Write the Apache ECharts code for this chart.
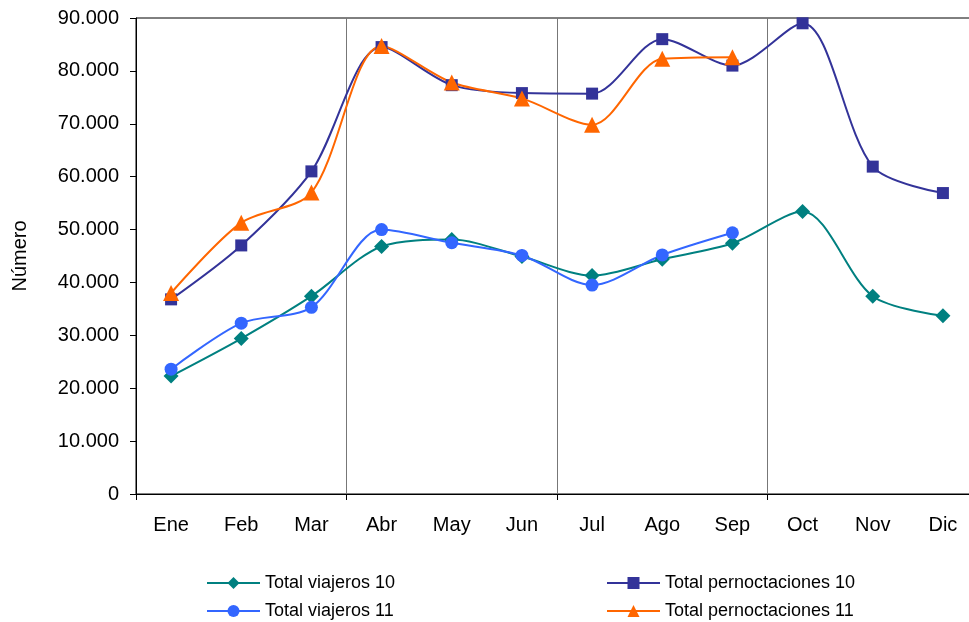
<!DOCTYPE html>
<html>
<head>
<meta charset="utf-8">
<script src="https://cdn.jsdelivr.net/npm/echarts@6/dist/echarts.min.js"></script>
<style>
html,body{margin:0;padding:0;background:#fff;}
#chart{width:969px;height:622px;}
</style>
</head>
<body>
<div id="chart"></div>
<script>
const months = ['Ene', 'Feb', 'Mar', 'Abr', 'May', 'Jun', 'Jul', 'Ago', 'Sep', 'Oct', 'Nov', 'Dic'];
const viajeros10 = [22300, 29400, 37400, 46800, 48100, 44900, 41300, 44400, 47400, 53400, 37400, 33700];
const pernoctaciones10 = [36800, 47000, 61000, 84500, 77300, 75800, 75700, 86000, 81000, 89000, 61900, 56900];
const viajeros11 = [23600, 32300, 35300, 50000, 47500, 45100, 39500, 45200, 49400, null, null, null];
const pernoctaciones11 = [38000, 51300, 57000, 84700, 77800, 74800, 69800, 82300, 82600, null, null, null];
const yMin = 0, yMax = 90000, yStep = 10000;

const FONT = "'Liberation Sans', Arial, sans-serif";
function fmt(v) {
  return String(v).replace(/\B(?=(\d{3})+(?!\d))/g, '.');
}
const chart = echarts.init(document.getElementById('chart'), null, {renderer: 'canvas'});
function mk(name, data, color, symbol, size) {
  return {
    name: name, type: 'line', data: data, smooth: 0.3,
    symbol: symbol, symbolSize: size, showSymbol: true,
    lineStyle: {color: color, width: 2},
    itemStyle: {color: color},
    connectNulls: false, animation: false
  };
}
function lg(name, left, top) {
  return {
    show: true, orient: 'horizontal', left: left, top: top, padding: 0,
    itemWidth: 53, itemHeight: 15, data: [name], selectedMode: false,
    textStyle: {fontFamily: FONT, fontSize: 18, color: '#000'}
  };
}
const every3 = function (index) { return index % 3 === 0; };
chart.setOption({
  animation: false,
  textStyle: {fontFamily: FONT},
  grid: {left: 136, top: 18, width: 842, height: 476, show: true, borderColor: '#000', borderWidth: 1,
         backgroundColor: 'transparent', outerBoundsMode: 'none', containLabel: false},
  legend: [
    lg('Total viajeros 10', 206, 574),
    lg('Total viajeros 11', 206, 602),
    lg('Total pernoctaciones 10', 606, 574),
    lg('Total pernoctaciones 11', 606, 602)
  ],
  xAxis: {
    type: 'category', data: months, boundaryGap: true,
    axisLine: {lineStyle: {color: '#000', width: 1}},
    axisTick: {show: true, interval: every3, length: 6, inside: false, lineStyle: {color: '#000'}},
    splitLine: {show: true, interval: every3, lineStyle: {color: '#777', width: 1}},
    axisLabel: {interval: 0, fontSize: 20, color: '#000', margin: 21, fontFamily: FONT}
  },
  yAxis: {
    type: 'value', min: yMin, max: yMax, interval: yStep,
    name: 'Número', nameLocation: 'middle', nameGap: 106, nameRotate: 90,
    nameTextStyle: {fontSize: 20, color: '#000', fontFamily: FONT},
    axisLine: {show: true, lineStyle: {color: '#000', width: 1}},
    axisTick: {show: true, length: 6, lineStyle: {color: '#000'}},
    splitLine: {show: false},
    axisLabel: {fontSize: 20, color: '#000', margin: 17, formatter: fmt, fontFamily: FONT}
  },
  series: [
    mk('Total viajeros 10', viajeros10, '#008080', 'diamond', 15),
    mk('Total pernoctaciones 10', pernoctaciones10, '#333399', 'rect', 12),
    mk('Total viajeros 11', viajeros11, '#3366FF', 'circle', 13),
    mk('Total pernoctaciones 11', pernoctaciones11, '#FF6600', 'triangle', 16)
  ]
});
</script>
</body>
</html>
